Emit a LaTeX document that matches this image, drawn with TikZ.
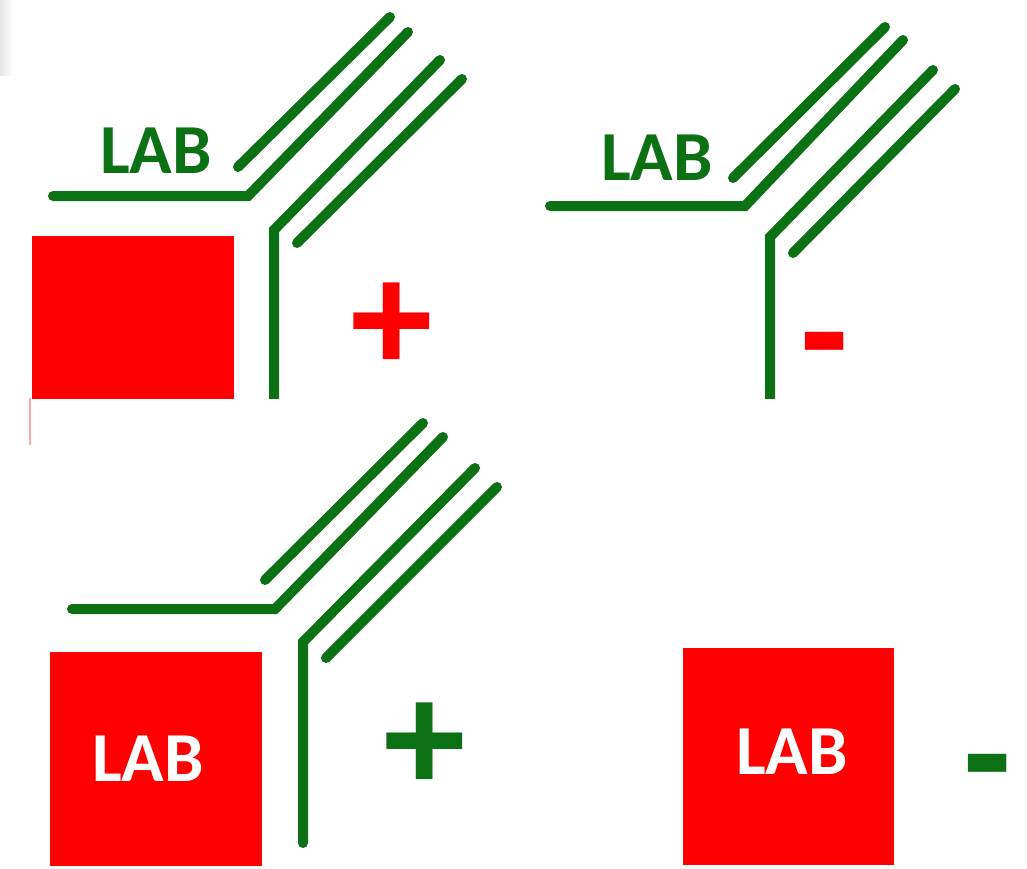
\documentclass[tikz,border=0pt]{standalone}
\usepackage{fontspec}
\setmainfont{Carlito}
\newfontfamily\signfont{Liberation Sans}
\definecolor{labgreen}{RGB}{12,112,20}
\definecolor{labred}{RGB}{255,0,0}
\tikzset{
  strand/.style={draw=labgreen, line width=1mm, line cap=round},
  labtext/.style={font=\fontsize{20}{24}\selectfont\bfseries, inner sep=0pt},
  signtext/.style={font=\signfont\fontsize{43}{43}\selectfont\bfseries, inner sep=0pt}
}
\begin{document}
\begin{tikzpicture}[x=0.1mm, y=-0.1mm]
\useasboundingbox (0,0) rectangle (1027,868);
\shade[left color=black!10, right color=white] (0,0) rectangle (13,75);
\draw[labred!35, line width=0.2mm] (30,398) -- (30,445);
\begin{scope}
\clip (0,0) rectangle (1027,398);
% antigen present, antibody bound
\fill[labred] (32,236) rectangle (234,420);
\draw[strand] (53,196) -- (248,196) -- (408,32);
\draw[strand] (238,167) -- (390,17);
\draw[strand] (274,420) -- (274,230) -- (440,60);
\draw[strand] (297,243) -- (462,79);
\node[labtext, text=labgreen] (lab1) at (156,151) {LAB};
\node[signtext, text=labred] (sign1) at (392,327) {+};
% no antigen
\draw[strand] (550,206) -- (745,206) -- (903,40);
\draw[strand] (733,178) -- (885,27);
\draw[strand] (770,420) -- (770,237) -- (933,70);
\draw[strand] (793,253) -- (955,89);
\node[labtext, text=labgreen] (lab2) at (657,158) {LAB};
\node[signtext, text=labred] (sign2) at (825,356) {-};
\end{scope}
% antigen labelled, antibody
\fill[labred] (50,652) rectangle (262,866);
\draw[strand] (72,609) -- (275,609) -- (443,437);
\draw[strand] (265,580) -- (423,423);
\draw[strand] (303,843) -- (303,642) -- (475,468);
\draw[strand] (326,658) -- (497,487);
\node[labtext, text=white] (lab3) at (148,759) {LAB};
\node[signtext, text=labgreen] (sign3) at (425,747) {+};
% labelled antigen alone
\fill[labred] (683,648) rectangle (894,865);
\node[labtext, text=white] (lab4) at (792,752) {LAB};
\node[signtext, text=labgreen] (sign4) at (988,778) {-};
\end{tikzpicture}
\end{document}
